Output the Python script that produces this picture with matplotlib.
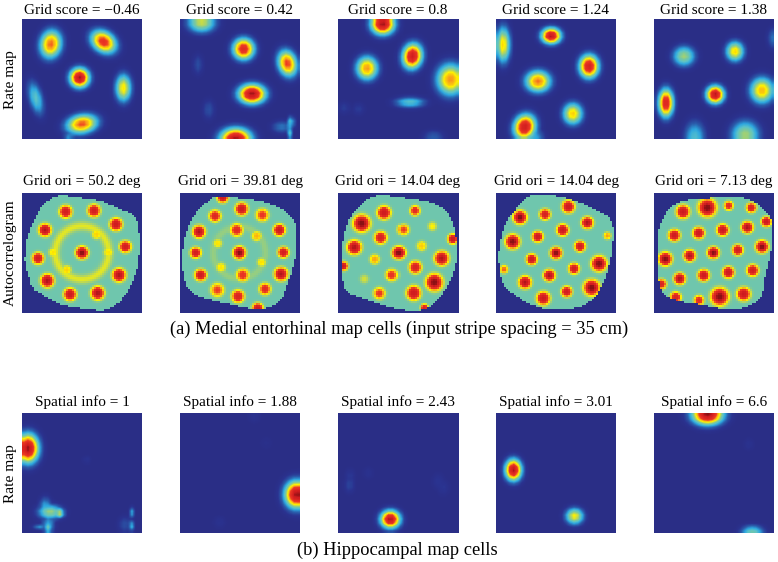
import numpy as np
import matplotlib
matplotlib.use("Agg")
import matplotlib.pyplot as plt
from matplotlib.colors import LinearSegmentedColormap
from matplotlib.path import Path

plt.rcParams['font.family'] = ['Liberation Serif', 'DejaVu Serif']

grid_titles = ["Grid score = \u22120.46", "Grid score = 0.42", "Grid score = 0.8", "Grid score = 1.24", "Grid score = 1.38"]
ori_titles = ["Grid ori = 50.2 deg", "Grid ori = 39.81 deg", "Grid ori = 14.04 deg", "Grid ori = 14.04 deg", "Grid ori = 7.13 deg"]
info_titles = ["Spatial info = 1", "Spatial info = 1.88", "Spatial info = 2.43", "Spatial info = 3.01", "Spatial info = 6.6"]
caption_a = "(a) Medial entorhinal map cells (input stripe spacing = 35 cm)"
caption_b = "(b) Hippocampal map cells"

# Firing fields: (x, y, peak, sigma_x, sigma_y, angle_deg), x/y as panel fractions
grid_fields = [
    [(.24,.21,.76,.055,.072,10),(.68,.19,.84,.07,.052,35),(.48,.49,1.0,.05,.05,0),(.845,.575,.63,.04,.07,0),
     (.115,.66,.38,.034,.085,-15),(.50,.875,.78,.08,.048,-10),(.39,.99,.25,.025,.02,0)],
    [(.18,.03,.55,.07,.05,0),(.53,.25,.88,.055,.055,0),(.895,.37,.8,.048,.068,-15),(.60,.625,1.0,.07,.05,0),
     (.465,1.0,1.0,.08,.055,0),(.15,.38,.12,.025,.05,0),(.24,.755,.12,.03,.05,0),(.93,.86,.55,.012,.03,0),
     (.92,.95,.4,.01,.03,0),(.85,.90,.2,.05,.03,0)],
    [(.37,.04,1.0,.06,.055,0),(.24,.41,.72,.055,.06,0),(.615,.31,.95,.05,.065,10),(.93,.505,.72,.07,.08,0),
     (.595,.695,.38,.075,.025,0),(.79,.98,.15,.05,.03,0),(.05,.74,.08,.03,.03,0),(.17,.75,.08,.03,.03,0)],
    [(.46,.14,1.0,.05,.04,0),(.775,.395,.93,.05,.06,0),(.35,.52,.75,.065,.055,0),(.06,.215,.65,.035,.09,0),
     (.64,.79,.66,.05,.055,0),(.24,.90,.95,.055,.065,20),(.31,.98,.3,.05,.035,0)],
    [(.25,.31,.5,.055,.05,0),(.675,.27,.65,.045,.05,0),(.51,.63,1.0,.045,.045,0),(.10,.70,.92,.038,.072,0),
     (.90,.595,.68,.06,.065,0),(.34,.99,.35,.05,.08,0),(.76,.965,.5,.07,.07,0),(1.0,.16,.2,.03,.05,0)],
]
place_fields = [
    [(.05,.295,1.0,.055,.075,0),(.235,.825,.5,.06,.035,0),(.31,.835,.62,.025,.022,0),(.195,.79,.3,.03,.05,0),
     (.22,.93,.28,.03,.05,0),(.225,.965,.9,.012,.012,0),(.15,.94,.35,.035,.01,0),(.915,.83,.3,.012,.025,0),
     (.91,.94,.35,.012,.025,0),(.86,.93,.12,.035,.04,0),(.54,.39,.06,.02,.02,0)],
    [(.97,.68,1.0,.06,.07,0),(.33,.91,.05,.03,.03,0),(.62,.03,.05,.03,.03,0),(.72,.25,.03,.03,.03,0)],
    [(.433,.886,1.0,.05,.045,0),(.095,.60,.1,.025,.04,0),(.10,.53,.07,.025,.04,0),(.25,.50,.05,.025,.03,0),
     (.83,.57,.06,.03,.04,0),(.87,.62,.06,.03,.04,0)],
    [(.145,.475,1.0,.042,.055,0),(.655,.86,.62,.045,.04,0)],
    [(.447,.017,1.0,.08,.05,0),(.82,.99,.42,.055,.03,0),(.79,.26,.05,.025,.03,0)],
]

# Autocorrelogram peaks and troughs, in 0-360 panel units: (x, y, peak, sigma)
ac_peaks = [
    [(131,56,.93,15),(216,53,.93,15),(282,94,.95,15),(310,161,.93,14),(291,246,.97,16),(227,300,.97,16),(144,304,.95,15),
     (76,263,.97,16),(48,196,.93,14),(69,111,.97,15),(180,179,1.0,15),
     (94,178,.62,12),(259,178,.62,12),(224,124,.64,12),(134,231,.64,12)],
    [(128,13,.95,13),(185,48,.95,15),(105,69,.88,14),(247,66,.8,15),(57,116,.97,15),(298,111,.95,14),(170,111,.85,15),
     (230,129,.68,12),(113,151,.62,11),(178,179,1.0,15),(310,178,.93,13),(47,179,.93,13),(245,208,.62,11),
     (123,223,.62,12),(188,246,.82,15),(303,243,.97,16),(62,246,.95,14),(112,291,.78,16),(255,288,.85,14),
     (174,310,.9,15),(233,346,.95,13)],
    [(71,91,1.0,20),(138,59,.95,16),(228,53,.85,12),(49,163,.97,17),(128,134,.9,15),(194,110,.78,13),(280,100,.6,11),
     (341,138,.95,12),(181,179,1.0,15),(248,159,.65,12),(308,196,.97,17),(110,199,.7,12),(229,223,.9,15),
     (161,246,.82,14),(16,219,.95,11),(79,258,.55,11),(286,268,1.0,20),(224,300,.95,17),(124,301,.8,14),(256,344,.9,9)],
    [(72,73,1.0,16),(50,146,1.0,17),(24,229,.75,10),(87,268,.97,15),(217,41,.95,15),(147,64,.92,13),(274,89,.97,14),
     (200,111,.95,14),(125,131,.95,13),(334,128,.7,9),(252,160,.93,13),(180,180,1.0,14),(107,199,.95,13),
     (309,212,1.0,18),(234,227,.93,13),(160,247,.97,14),(287,284,1.0,19),(212,296,.93,13),(142,316,.95,16)],
    [(87,56,.95,16),(160,44,1.0,21),(224,38,.85,11),(292,44,.9,12),(337,86,.95,12),(280,103,.97,14),(206,111,.95,14),
     (134,120,.95,14),(61,127,.95,14),(324,161,1.0,15),(251,171,.93,13),(178,179,1.0,14),(107,188,.97,14),
     (34,198,1.0,16),(296,232,.93,14),(223,238,.95,14),(149,247,.95,14),(77,257,.97,14),(22,273,.9,12),
     (269,303,.95,16),(197,311,1.0,21),(135,322,.85,12),(65,313,.9,13)],
]
ac_troughs = [
    [(170,34,.28,13),(36,141,.25,13),(324,211,.25,13),(90,301,.28,13),(186,325,.28,12),(72,60,.32,14),(40,115,.3,12)],
    [(60,55,.2,14),(30,90,.25,12),(290,310,.2,13),(310,280,.28,10)],
    [(100,17,.2,12),(340,100,.3,10),(30,260,.28,10),(205,340,.25,12),(30,300,.3,10)],
    [(140,330,.33,40),(40,80,.34,20)],
    [(50,95,.32,25),(60,200,.36,25),(280,60,.35,20)],
]
# Inner ring of the first two autocorrelograms: (x, y, radius, peak, width)
ac_rings = [[(180,179,80,.57,10)], [(178,179,78,.48,9)], [], [], []]
# Arena outline after shearing, 0-360 panel units
ac_outlines = [
    [(109,9),(170,14),(234,24),(300,50),(338,72),(350,110),(352,170),(343,235),(325,280),(300,318),(265,345),(224,351),
     (124,336),(70,310),(34,286),(20,250),(9,206),(15,140),(34,86),(64,36)],
    [(110,11),(250,26),(330,66),(348,116),(345,196),(325,266),(300,321),(240,348),(140,331),(50,306),(15,266),(8,186),
     (20,116),(50,56),(90,21)],
    [(66,36),(116,9),(206,16),(306,41),(346,106),(353,196),(336,256),(301,316),(256,349),(186,349),(76,316),(21,286),
     (11,186),(26,96)],
    [(72,36),(112,6),(202,13),(302,51),(347,86),(349,166),(327,256),(292,316),(232,346),(133,344),(32,286),(10,216),
     (10,166),(32,86)],
    [(67,31),(157,16),(277,16),(347,71),(355,146),(332,256),(317,316),(247,349),(147,336),(32,306),(12,216),(12,146),
     (22,86)],
]

PANEL_X = [22, 180, 338, 496, 654]
ROW_Y = [19, 193, 413]
TITLE_Y = [10, 182, 402]
PANEL = 120
W, H = 778, 562
RATE_WIDEN = 1.22
RATE_POWER = 2.4
AC_POWER = 3

cmap = LinearSegmentedColormap.from_list("print_jet", [
    (0.00, "#2a2e86"), (0.05, "#2b3390"), (0.15, "#2a5cab"), (0.27, "#2ea7df"), (0.37, "#5cc3c8"),
    (0.44, "#78c8a2"), (0.52, "#b7d65c"), (0.60, "#fff200"), (0.70, "#f9a51a"), (0.78, "#ee3a24"),
    (0.95, "#d01c1f"), (1.00, "#8a1014")])


def bump(xx, yy, x, y, sx, sy, angle, power):
    t = np.deg2rad(angle)
    u = (xx - x) * np.cos(t) + (yy - y) * np.sin(t)
    v = -(xx - x) * np.sin(t) + (yy - y) * np.cos(t)
    return np.exp(-0.5 * np.hypot(u / sx, v / sy) ** power)


def rate_map(fields, n=30):
    c = (np.arange(n) + .5) / n
    xx, yy = np.meshgrid(c, c)
    z = np.zeros((n, n))
    for x, y, a, sx, sy, ang in fields:
        z = np.maximum(z, a * bump(xx, yy, x, y, sx * RATE_WIDEN, sy * RATE_WIDEN, ang, RATE_POWER))
    return z


def smooth_outline(pts, steps=8):
    """Closed Catmull-Rom curve through the outline vertices."""
    p = np.array(pts, float)
    t = (np.arange(steps) / steps)[:, None, None]
    p0, p1, p2, p3 = np.roll(p, 1, axis=0), p, np.roll(p, -1, axis=0), np.roll(p, -2, axis=0)
    q = .5 * (2 * p1 + (p2 - p0) * t + (2 * p0 - 5 * p1 + 4 * p2 - p3) * t ** 2 + (3 * p1 - p0 - 3 * p2 + p3) * t ** 3)
    return q.transpose(1, 0, 2).reshape(-1, 2)


def autocorr(peaks, troughs, rings, outline, n=60, base=.42):
    c = (np.arange(n) + .5) / n * 360
    xx, yy = np.meshgrid(c, c)
    z = np.full((n, n), base)
    for x, y, a, s in troughs:
        z += (a - base) * bump(xx, yy, x, y, s * 1.3, s * 1.3, 0, AC_POWER)
    for x, y, r, a, w in rings:
        d = np.hypot(xx - x, yy - y)
        z = np.maximum(z, base + (a - base) * np.exp(-0.5 * ((d - r) / w) ** 2))
    for x, y, a, s in peaks:
        z = np.maximum(z, base + (a - base) * bump(xx, yy, x, y, s, s, 0, AC_POWER))
    inside = Path(smooth_outline(outline)).contains_points(np.column_stack([xx.ravel(), yy.ravel()])).reshape(n, n)
    z[~inside] = 0
    return z


fig = plt.figure(figsize=(W / 100, H / 100), dpi=100, facecolor="white")


def panel(col, row):
    return fig.add_axes([PANEL_X[col] / W, 1 - (ROW_Y[row] + PANEL) / H, PANEL / W, PANEL / H])


def title(i, row, s):
    fig.text((PANEL_X[i] + PANEL / 2) / W, 1 - TITLE_Y[row] / H, s, ha="center", va="center", fontsize=11)


for i in range(5):
    ax = panel(i, 0)
    ax.imshow(rate_map(grid_fields[i]), cmap=cmap, vmin=0, vmax=1, interpolation="bilinear", aspect="auto")
    ax.set_axis_off()
    title(i, 0, grid_titles[i])

    ax = panel(i, 1)
    ax.imshow(autocorr(ac_peaks[i], ac_troughs[i], ac_rings[i], ac_outlines[i]), cmap=cmap, vmin=0, vmax=1,
              interpolation="nearest", aspect="auto")
    ax.set_axis_off()
    title(i, 1, ori_titles[i])

    ax = panel(i, 2)
    ax.imshow(rate_map(place_fields[i]), cmap=cmap, vmin=0, vmax=1, interpolation="bilinear", aspect="auto")
    ax.set_axis_off()
    title(i, 2, info_titles[i])

for y, label in [(79.5, "Rate map"), (252.5, "Autocorrelogram"), (474, "Rate map")]:
    fig.text(10.5 / W, 1 - y / H, label, rotation=90, ha="center", va="center", fontsize=11.1)
fig.text(399 / W, 1 - 329.5 / H, caption_a, ha="center", va="center", fontsize=13.2)
fig.text(397.5 / W, 1 - 550 / H, caption_b, ha="center", va="center", fontsize=13.2)

fig.savefig("out.png", dpi=100, facecolor="white")
